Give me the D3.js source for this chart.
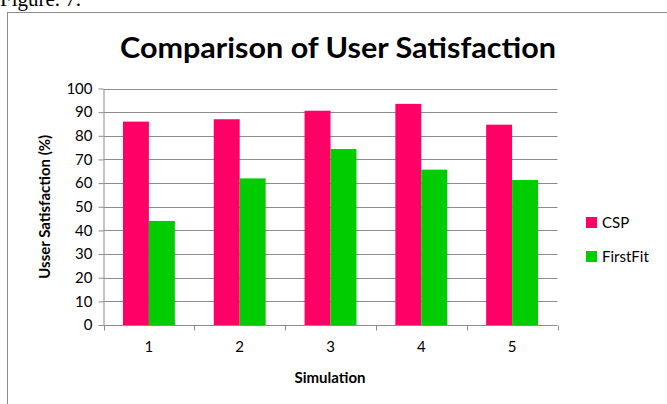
<!DOCTYPE html>
<html>
<head>
<meta charset="utf-8">
<title>Comparison of User Satisfaction</title>
<script src="https://d3js.org/d3.v7.min.js"></script>
<style>
  body { margin: 0; background: #fff; }
  svg text { font-family: Lato, "Open Sans", sans-serif; fill: #000; }
  .grid line { stroke: #8c8c8c; }
  .axis path, .axis line { stroke: #8c8c8c; }
</style>
</head>
<body>
<div id="chart"></div>
<script>
var simulations = ["1", "2", "3", "4", "5"];
var cspValues = [86, 87, 90.6, 93.5, 84.7];
var firstFitValues = [44, 62, 74.4, 65.7, 61.3];
var seriesNames = ["CSP", "FirstFit"];
var seriesColors = ["#ff0066", "#00cc00"];
var yTicks = [0, 10, 20, 30, 40, 50, 60, 70, 80, 90, 100];

var W = 667, H = 404;
var plot = { left: 103.5, right: 557.5, top: 88.5, bottom: 325 };

var svg = d3.select("#chart").append("svg")
  .attr("width", W).attr("height", H);

// caption cut off at the top of the page
svg.append("text")
  .attr("x", 0).attr("y", 6)
  .style("font-family", "'Liberation Serif', serif")
  .style("font-size", "21px")
  .text("Figure. 7.");

// chart frame
svg.append("rect")
  .attr("x", 7.5).attr("y", 12.5)
  .attr("width", 700).attr("height", 450)
  .attr("fill", "none").attr("stroke", "#8c8c8c");

var x0 = d3.scaleBand().domain(simulations)
  .range([plot.left, plot.right]).paddingInner(0).paddingOuter(0);
var x1 = d3.scaleBand().domain(seriesNames)
  .range([0, x0.bandwidth()]).paddingOuter(0.75 * 0.999).paddingInner(0);
// Excel gap width 150%: group is 2 bars out of 3.5 bar widths
x1.range([x0.bandwidth() * 0.75 / 3.5, x0.bandwidth() * (1 - 0.75 / 3.5)]).paddingOuter(0);

var y = d3.scaleLinear().domain([0, 100]).range([plot.bottom, plot.top]);

// gridlines
svg.append("g").attr("class", "grid")
  .selectAll("line").data(yTicks.slice(1)).enter().append("line")
  .attr("x1", plot.left).attr("x2", plot.right)
  .attr("y1", function (d) { return Math.round(y(d)) + 0.5; })
  .attr("y2", function (d) { return Math.round(y(d)) + 0.5; });

// bars
var rows = simulations.map(function (s, i) {
  return { sim: s, values: [cspValues[i], firstFitValues[i]] };
});
var group = svg.selectAll(".grp").data(rows).enter().append("g")
  .attr("class", "grp")
  .attr("transform", function (d) { return "translate(" + x0(d.sim) + ",0)"; });
group.selectAll("rect")
  .data(function (d) { return d.values.map(function (v, k) { return { key: seriesNames[k], v: v, k: k }; }); })
  .enter().append("rect")
  .attr("x", function (d) { return x1(d.key); })
  .attr("width", x1.bandwidth())
  .attr("y", function (d) { return y(d.v); })
  .attr("height", function (d) { return y(0) - y(d.v); })
  .attr("fill", function (d) { return seriesColors[d.k]; });

// y axis
var yAxis = svg.append("g").attr("class", "axis")
  .attr("transform", "translate(" + plot.left + ",0)")
  .call(d3.axisLeft(y).tickValues(yTicks).tickSize(5).tickPadding(6).tickSizeOuter(0));
yAxis.selectAll("text").style("font-size", "15px");

// x axis with ticks at category boundaries
var xAxisG = svg.append("g").attr("class", "axis")
  .attr("transform", "translate(0," + (plot.bottom + 0.5) + ")");
xAxisG.append("line")
  .attr("x1", plot.left).attr("x2", plot.right).attr("stroke", "#8c8c8c");
var bounds = simulations.map(function (s) { return x0(s); }).concat([plot.right]);
xAxisG.selectAll(".tk").data(bounds).enter().append("line")
  .attr("x1", function (d) { return Math.round(d) + 0.5; })
  .attr("x2", function (d) { return Math.round(d) + 0.5; })
  .attr("y1", 0).attr("y2", 5).attr("stroke", "#8c8c8c");
xAxisG.selectAll(".lbl").data(simulations).enter().append("text")
  .attr("x", function (d) { return x0(d) + x0.bandwidth() / 2; })
  .attr("y", 26)
  .attr("text-anchor", "middle")
  .style("font-size", "15px")
  .text(function (d) { return d; });

// titles
svg.append("text")
  .attr("x", 338).attr("y", 58)
  .attr("text-anchor", "middle")
  .style("font-size", "28px").style("font-weight", "bold")
  .attr("textLength", 436).attr("lengthAdjust", "spacingAndGlyphs")
  .text("Comparison of User Satisfaction");

svg.append("text")
  .attr("x", 330).attr("y", 383)
  .attr("text-anchor", "middle")
  .style("font-size", "15px").style("font-weight", "bold")
  .text("Simulation");

svg.append("text")
  .attr("transform", "translate(50," + ((plot.top + plot.bottom) / 2) + ") rotate(-90)")
  .attr("text-anchor", "middle")
  .style("font-size", "15px").style("font-weight", "bold")
  .text("Usser Satisfaction (%)");

// legend
var legend = svg.selectAll(".lg").data(seriesNames).enter().append("g")
  .attr("transform", function (d, i) { return "translate(586," + (217 + i * 34) + ")"; });
legend.append("rect")
  .attr("width", 11).attr("height", 11)
  .attr("fill", function (d, i) { return seriesColors[i]; });
legend.append("text")
  .attr("x", 16).attr("y", 11)
  .style("font-size", "15px")
  .text(function (d) { return d; });
</script>
</body>
</html>
